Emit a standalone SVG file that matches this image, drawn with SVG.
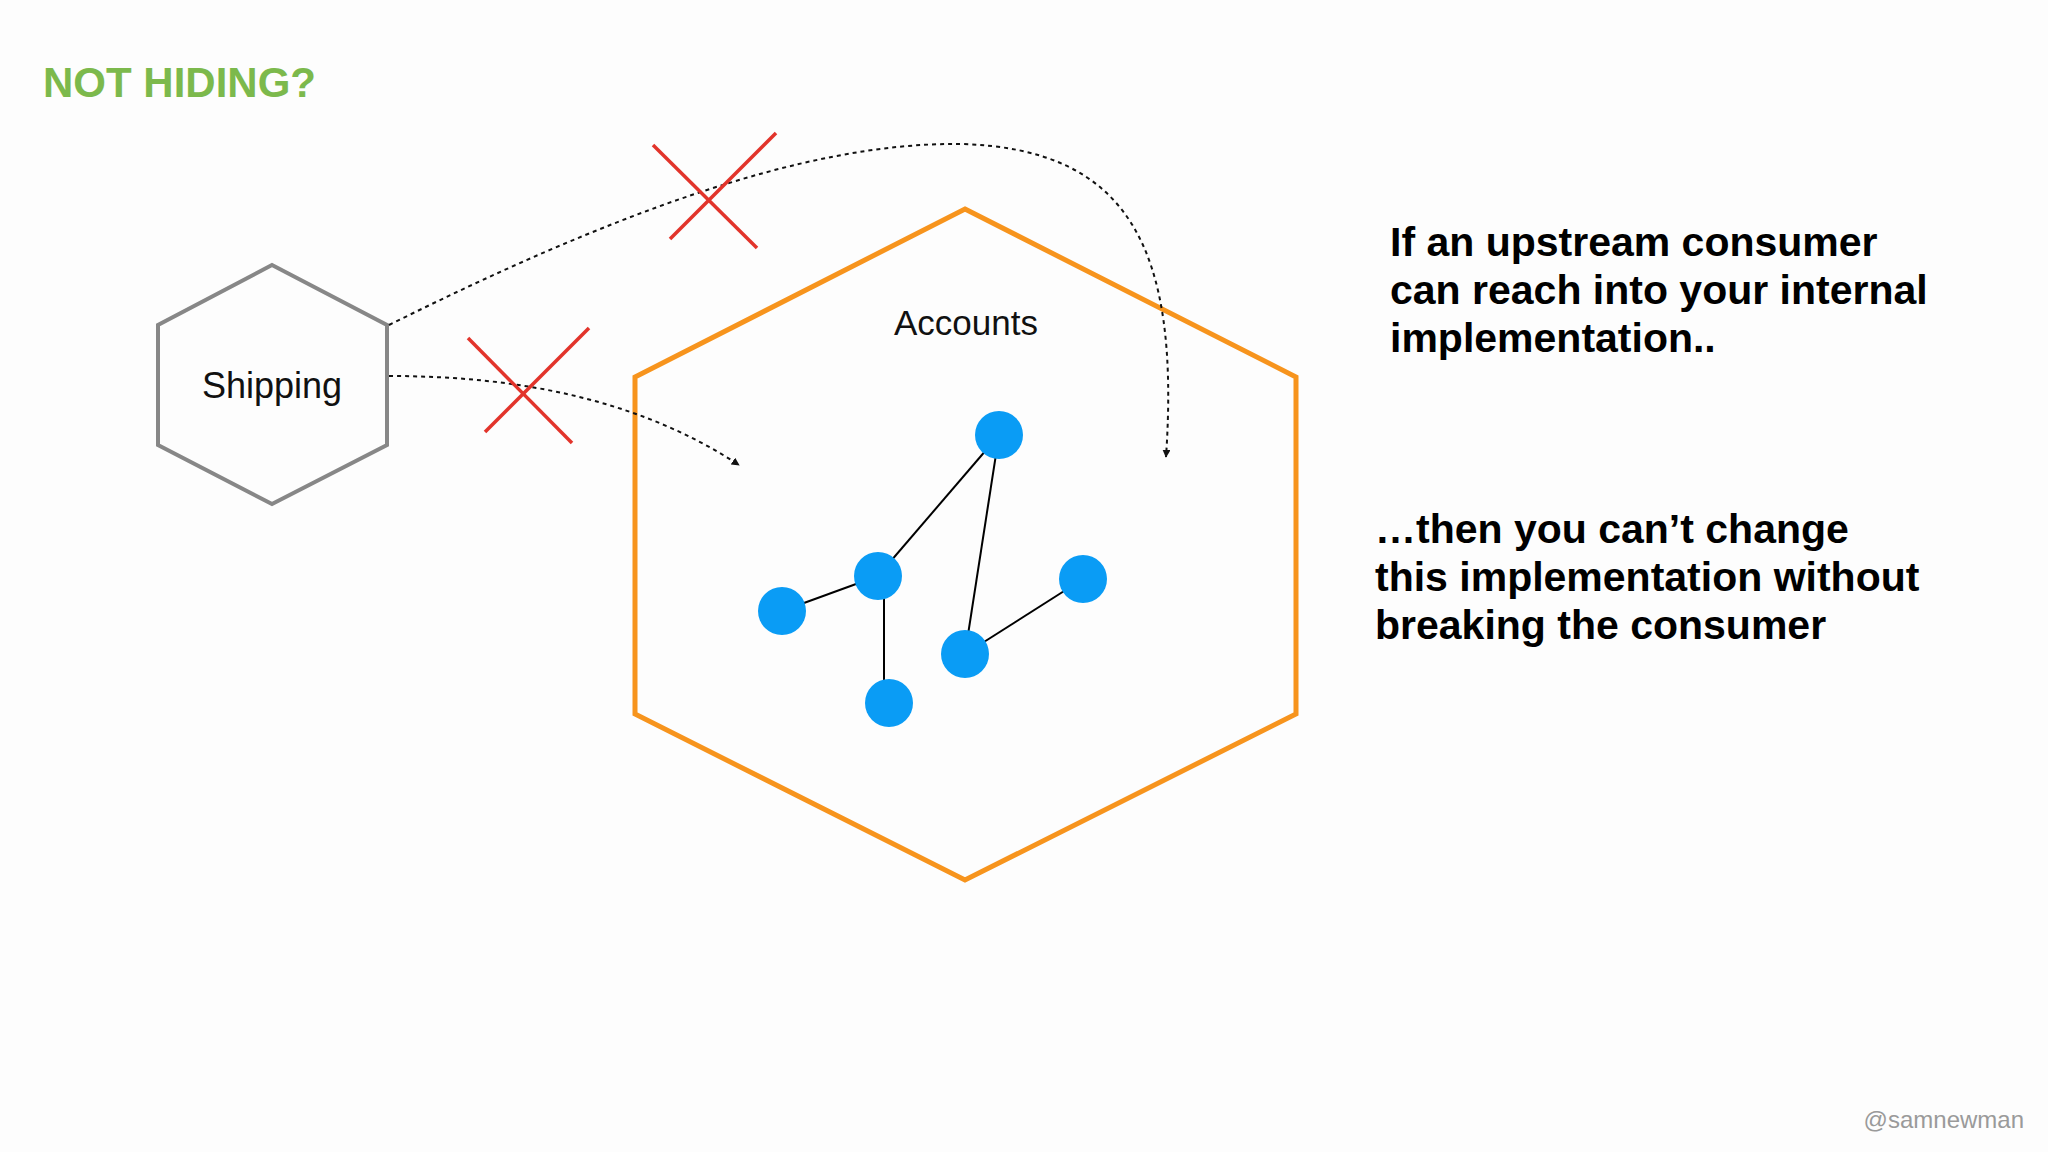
<svg xmlns="http://www.w3.org/2000/svg" width="2048" height="1152" viewBox="0 0 2048 1152">
<style>
text{font-family:"Liberation Sans",Arial,sans-serif}
.dash{fill:none;stroke:#111;stroke-width:2;stroke-dasharray:4 4}
.x{stroke:#e2342b;stroke-width:3.5}
.edge{stroke:#000;stroke-width:2}
.n{fill:#0a9cf5}
.body{font-size:41px;fill:#000;font-weight:bold}
</style>
<defs>
<marker id="ah" viewBox="0 0 10 10" refX="9" refY="5" markerWidth="8" markerHeight="8" orient="auto" markerUnits="userSpaceOnUse"><path d="M0,0 L10,5 L0,10 z" fill="#111"/></marker>
</defs>
<rect width="2048" height="1152" fill="#fdfdfd"/>
<text x="43" y="97" font-size="42" font-weight="bold" fill="#7cb94c">NOT HIDING?</text>
<g id="shipping">
<polygon points="272,265 387,325 387,445 272,504 158,445 158,325" fill="none" stroke="#878787" stroke-width="4"/>
<text x="272" y="398" font-size="36" text-anchor="middle" fill="#111">Shipping</text>
</g>
<g id="accounts">
<polygon points="965,209 1296,377 1296,714 965,880 635,714 635,377" fill="none" stroke="#f7941d" stroke-width="5"/>
<text x="966" y="335" font-size="35" text-anchor="middle" fill="#111">Accounts</text>
</g>
<g id="connectors">
<path class="dash" d="M389,325 C600,220 800,142 960,144 C1130,148 1180,250 1166,457" marker-end="url(#ah)"/>
<path class="dash" d="M389,376 C520,376 640,400 739,465" marker-end="url(#ah)"/>
<line class="edge" x1="999" y1="435" x2="878" y2="576"/>
<line class="edge" x1="878" y1="576" x2="782" y2="611"/>
<line class="edge" x1="884" y1="576" x2="884" y2="703"/>
<line class="edge" x1="999" y1="435" x2="965" y2="654"/>
<line class="edge" x1="965" y1="654" x2="1083" y2="579"/>
</g>
<g id="internals">
<circle class="n" cx="999" cy="435" r="24"/>
<circle class="n" cx="878" cy="576" r="24"/>
<circle class="n" cx="782" cy="611" r="24"/>
<circle class="n" cx="889" cy="703" r="24"/>
<circle class="n" cx="965" cy="654" r="24"/>
<circle class="n" cx="1083" cy="579" r="24"/>
</g>
<g id="crosses">
<line class="x" x1="653" y1="145" x2="757" y2="248"/>
<line class="x" x1="776" y1="133" x2="670" y2="239"/>
<line class="x" x1="468" y1="338" x2="572" y2="443"/>
<line class="x" x1="589" y1="328" x2="485" y2="432"/>
</g>
<g id="notes">
<text class="body" x="1390" y="256">If an upstream consumer</text>
<text class="body" x="1390" y="304">can reach into your internal</text>
<text class="body" x="1390" y="352">implementation..</text>
<text class="body" x="1375" y="543">…then you can’t change</text>
<text class="body" x="1375" y="591">this implementation without</text>
<text class="body" x="1375" y="639">breaking the consumer</text>
</g>
<text x="2024" y="1128" font-size="24" text-anchor="end" fill="#9a9a9a">@samnewman</text>
</svg>
